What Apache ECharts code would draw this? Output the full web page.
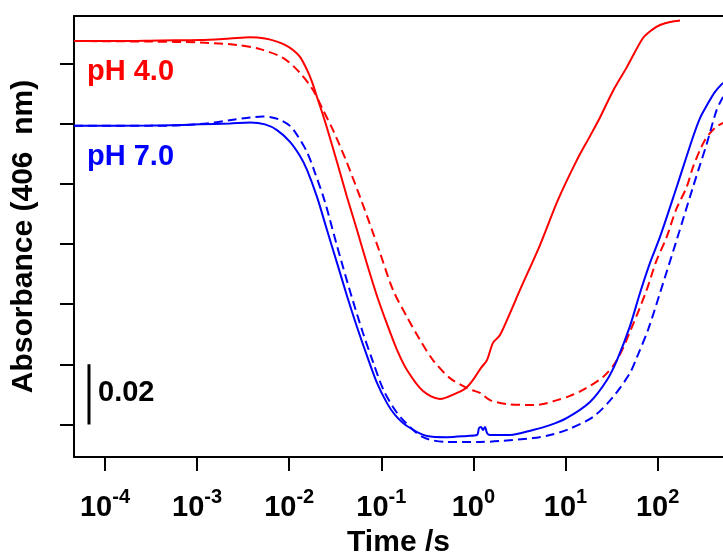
<!DOCTYPE html>
<html>
<head>
<meta charset="utf-8">
<script src="https://cdn.jsdelivr.net/npm/echarts@6/dist/echarts.min.js"></script>
<style>
  html, body { margin: 0; padding: 0; background: #ffffff; }
  #chart { width: 723px; height: 556px; }
</style>
</head>
<body>
<div id="chart"></div>
<script>
// Time axis (s), log scale: visible window and decade ticks
const timeMin = 4.606e-5;
const timeMax = 513.1;
const tickExponents = [-4, -3, -2, -1, 0, 1, 2];

// Absorbance axis (relative, 406 nm): window and tick positions (0.02 steps)
const absMin = -0.0108;
const absMax = 0.1357;
const absTicks = [0, 0.02, 0.04, 0.06, 0.08, 0.10, 0.12];

// Scale bar
const scaleBarTime = 6.7e-5;
const scaleBarValue = 0.02;

// pH 4.0, solid trace
const ph4SolidTime = [4.606e-5, 1.455e-4, 3.96e-4, 1.075e-3, 2.277e-3, 3.753e-3, 5.46e-3, 7.37e-3, 9.00e-3, 1.100e-2,
  1.310e-2, 1.561e-2, 1.769e-2, 2.003e-2, 2.270e-2, 2.573e-2, 3.304e-2, 4.242e-2, 5.447e-2, 6.995e-2,
  8.98e-2, 0.1153, 0.1481, 0.1901, 0.2836, 0.4339, 0.6637, 0.8313, 0.990, 1.209,
  1.405, 1.632, 1.944, 2.497, 3.206, 5.285, 8.290, 13.33, 18.45, 23.70,
  32.79, 46.54, 69.42, 86.94, 106.2, 136.3, 175.1];
const ph4SolidAbs = [0.1274, 0.1274, 0.1276, 0.1277, 0.1282, 0.1286, 0.1282, 0.1272, 0.1261, 0.1244,
  0.1221, 0.1178, 0.1138, 0.1088, 0.1038, 0.0985, 0.0872, 0.0756, 0.0646, 0.0533,
  0.0427, 0.0334, 0.0248, 0.0181, 0.0111, 0.0085, 0.0105, 0.0121, 0.0148, 0.0188,
  0.0214, 0.0271, 0.0297, 0.0370, 0.0447, 0.0596, 0.0746, 0.0879, 0.0958, 0.1020,
  0.1108, 0.1188, 0.1284, 0.1311, 0.1327, 0.1337, 0.1342];

// pH 4.0, dashed trace
const ph4DashTime = [4.606e-5, 3.08e-4, 1.075e-3, 2.711e-3, 4.819e-3, 8.56e-3, 1.310e-2, 1.813e-2, 2.328e-2, 2.989e-2,
  4.242e-2, 5.870e-2, 7.925e-2, 9.68e-2, 0.1340, 0.1901, 0.2631, 0.3640, 0.5569, 0.8522,
  1.041, 1.180, 1.515, 2.316, 3.819, 5.285, 8.085, 11.19, 15.49, 25.54,
  36.25, 52.72, 76.12, 96.07, 125.6, 158.4, 207.0, 242.3, 288.7, 327.1,
  370.7, 430.7, 513.1];
const ph4DashAbs = [0.1274, 0.1272, 0.1269, 0.1261, 0.1247, 0.1218, 0.1168, 0.1111, 0.1045, 0.0978,
  0.0869, 0.0756, 0.0646, 0.0570, 0.0447, 0.0357, 0.0281, 0.0214, 0.0154, 0.0121,
  0.0111, 0.0105, 0.0081, 0.0068, 0.0065, 0.0066, 0.0081, 0.0095, 0.0115, 0.0158,
  0.0214, 0.0324, 0.0447, 0.0540, 0.0623, 0.0713, 0.0789, 0.0855, 0.0912, 0.0945,
  0.0968, 0.0988, 0.1002];

// pH 7.0, solid trace
const ph7SolidTime = [4.606e-5, 3.08e-4, 1.075e-3, 2.277e-3, 3.753e-3, 5.46e-3, 7.37e-3, 1.020e-2, 1.310e-2, 1.561e-2,
  2.003e-2, 2.573e-2, 3.304e-2, 4.242e-2, 5.447e-2, 6.995e-2, 8.98e-2, 0.1153, 0.1408, 0.1901,
  0.3134, 0.5168, 0.8522, 1.094, 1.150, 1.209, 1.271, 1.337, 1.405, 1.515,
  2.497, 4.437, 6.786, 10.38, 18.45, 28.22, 36.25, 50.15, 64.41, 82.71,
  106.2, 161.2, 242.3, 288.7, 343.9, 420.0, 513.1];
const ph7SolidAbs = [0.0992, 0.0993, 0.0997, 0.1000, 0.1003, 0.0997, 0.0978, 0.0939, 0.0892, 0.0846,
  0.0756, 0.0646, 0.0537, 0.0427, 0.0324, 0.0228, 0.0138, 0.0071, 0.0032, -0.0005,
  -0.0038, -0.0042, -0.0038, -0.0035, -0.0012, -0.0008, -0.0018, -0.0008, -0.0028, -0.0035,
  -0.0035, -0.0018, -0.0002, 0.0022, 0.0075, 0.0148, 0.0214, 0.0327, 0.0437, 0.0537,
  0.0623, 0.0789, 0.0955, 0.1018, 0.1061, 0.1105, 0.1135];

// pH 7.0, dashed trace
const ph7DashTime = [4.606e-5, 3.08e-4, 1.075e-3, 2.454e-3, 3.753e-3, 5.193e-3, 6.50e-3, 7.95e-3, 1.020e-2, 1.215e-2,
  1.561e-2, 1.905e-2, 2.447e-2, 3.064e-2, 3.838e-2, 4.928e-2, 6.327e-2, 8.126e-2, 0.1044, 0.1340,
  0.1720, 0.2836, 0.5168, 1.180, 1.944, 4.437, 6.786, 10.38, 19.89, 32.79,
  50.15, 59.75, 78.65, 106.2, 161.2, 242.3, 288.7, 343.9, 438.2, 513.1];
const ph7DashAbs = [0.0992, 0.0992, 0.0998, 0.1012, 0.1020, 0.1023, 0.1020, 0.1012, 0.0992, 0.0962,
  0.0905, 0.0836, 0.0739, 0.0630, 0.0523, 0.0410, 0.0304, 0.0208, 0.0118, 0.0058,
  0.0015, -0.0042, -0.0058, -0.0058, -0.0055, -0.0045, -0.0035, -0.0018, 0.0025, 0.0091,
  0.0171, 0.0224, 0.0314, 0.0437, 0.0613, 0.0789, 0.0862, 0.0935, 0.1045, 0.1088];

const RED = '#ff0000';
const BLUE = '#0000ff';
const FONT = '"Liberation Sans", Arial, Helvetica, sans-serif';
const BASE_FONT = 'bold 29px ' + FONT;
const SUP_FONT = 'bold 20px ' + FONT;

const measureCtx = document.createElement('canvas').getContext('2d');
function textWidth(text, font) {
  measureCtx.font = font;
  return measureCtx.measureText(text).width;
}

function pairs(xs, ys) {
  return xs.map((x, i) => [x, ys[i]]);
}

function trace(name, xs, ys, color, dashed) {
  return {
    name: name,
    type: 'line',
    data: pairs(xs, ys),
    showSymbol: false,
    smooth: 0.3,
    clip: true,
    lineStyle: { color: color, width: 2, type: dashed ? [9, 5] : 'solid' },
    emphasis: { disabled: true },
    z: dashed ? 3 : 4
  };
}

// Decade labels "10^n" placed under each tick of the time axis
const decadeLabels = {
  name: 'decade labels',
  type: 'custom',
  coordinateSystem: 'cartesian2d',
  data: tickExponents.map(e => [Math.pow(10, e), absMin, e]),
  clip: false,
  silent: true,
  renderItem: function (params, api) {
    const exp = String(api.value(2));
    const p = api.coord([api.value(0), api.value(1)]);
    const wBase = textWidth('10', BASE_FONT);
    const wSup = textWidth(exp, SUP_FONT);
    const left = p[0] - (wBase + wSup) / 2;
    return {
      type: 'group',
      children: [
        { type: 'text', x: left, y: p[1] + 51,
          style: { text: '10', font: BASE_FONT, fill: '#000', align: 'left', verticalAlign: 'middle' } },
        { type: 'text', x: left + wBase, y: p[1] + 40,
          style: { text: exp, font: SUP_FONT, fill: '#000', align: 'left', verticalAlign: 'middle' } }
      ]
    };
  }
};

const decadeValues = tickExponents.map(e => Math.pow(10, e));

const chart = echarts.init(document.getElementById('chart'), null, { renderer: 'canvas' });

chart.setOption({
  animation: false,
  backgroundColor: '#ffffff',
  grid: { left: 74, right: 0, top: 16, bottom: 99, containLabel: false, outerBoundsMode: 'none' },
  xAxis: [
    {
      type: 'log',
      logBase: 10,
      min: timeMin,
      max: timeMax,
      position: 'bottom',
      axisLine: { show: true, onZero: false, lineStyle: { color: '#000', width: 2 } },
      axisTick: { show: true, inside: false, length: 14, customValues: decadeValues,
        lineStyle: { color: '#000', width: 2 } },
      minorTick: { show: false },
      splitLine: { show: false },
      axisLabel: { show: false },
      name: 'Time /s',
      nameLocation: 'middle',
      nameGap: 71,
      nameTextStyle: { fontSize: 30, fontWeight: 'bold', fontFamily: FONT, color: '#000' }
    },
    {
      type: 'log',
      logBase: 10,
      min: timeMin,
      max: timeMax,
      position: 'top',
      axisLine: { show: true, onZero: false, lineStyle: { color: '#000', width: 2 } },
      axisTick: { show: false },
      axisLabel: { show: false },
      splitLine: { show: false }
    }
  ],
  yAxis: {
    type: 'value',
    min: absMin,
    max: absMax,
    axisLine: { show: true, onZero: false, lineStyle: { color: '#000', width: 2 } },
    axisTick: { show: true, inside: false, length: 14, customValues: absTicks,
      lineStyle: { color: '#000', width: 2 } },
    axisLabel: { show: false },
    splitLine: { show: false },
    name: 'Absorbance (406  nm)',
    nameLocation: 'middle',
    nameGap: 35,
    nameTextStyle: { fontSize: 30, fontWeight: 'bold', fontFamily: FONT, color: '#000' }
  },
  series: [
    trace('pH 4.0 dashed', ph4DashTime, ph4DashAbs, RED, true),
    trace('pH 7.0 dashed', ph7DashTime, ph7DashAbs, BLUE, true),
    trace('pH 4.0', ph4SolidTime, ph4SolidAbs, RED, false),
    trace('pH 7.0', ph7SolidTime, ph7SolidAbs, BLUE, false),
    {
      name: 'scale bar',
      type: 'line',
      data: [[scaleBarTime, 0], [scaleBarTime, scaleBarValue]],
      showSymbol: false,
      lineStyle: { color: '#000', width: 3 },
      emphasis: { disabled: true }
    },
    decadeLabels
  ],
  graphic: [
    { type: 'text', left: 87, top: 57,
      style: { text: 'pH 4.0', fill: RED, font: 'bold 29px ' + FONT } },
    { type: 'text', left: 87, top: 142,
      style: { text: 'pH 7.0', fill: BLUE, font: 'bold 29px ' + FONT } },
    { type: 'text', left: 98, top: 378,
      style: { text: scaleBarValue.toFixed(2), fill: '#000', font: 'bold 29px ' + FONT } }
  ]
});
</script>
</body>
</html>
